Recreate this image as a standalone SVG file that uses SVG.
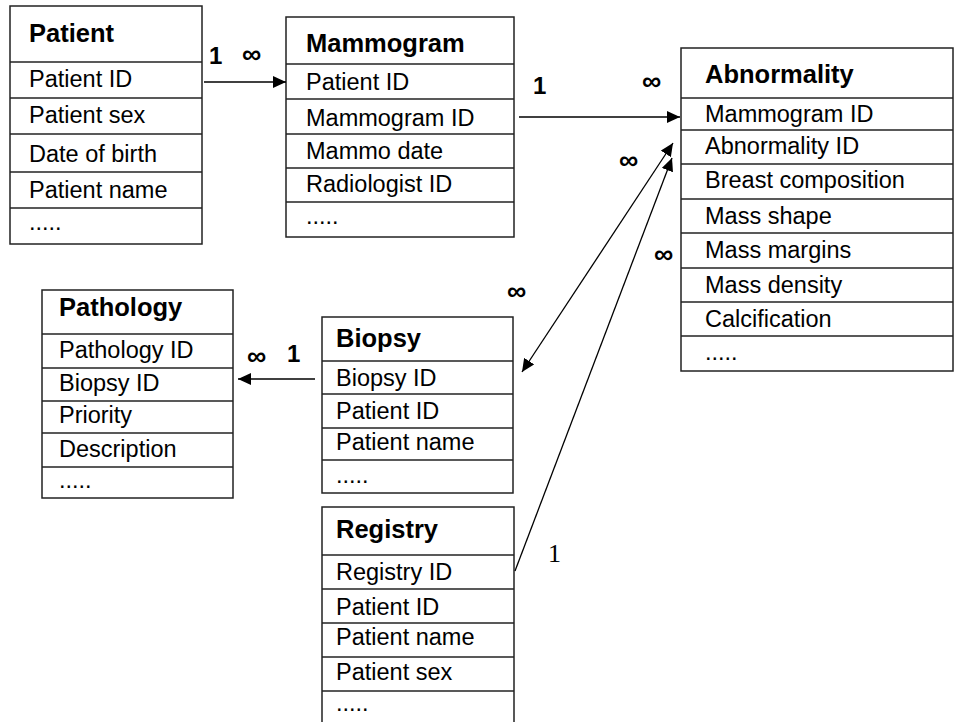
<svg xmlns="http://www.w3.org/2000/svg" width="955" height="722" viewBox="0 0 955 722">
  <style>
    .box { fill: #ffffff; stroke: #222222; stroke-width: 1.5; }
    .sep { stroke: #222222; stroke-width: 1.5; }
    .title { font-family: "Liberation Sans", Arial, sans-serif; font-size: 25.5px; font-weight: bold; fill: #000; }
    .field { font-family: "Liberation Sans", Arial, sans-serif; font-size: 23.5px; fill: #000; }
    .card { font-family: "Liberation Sans", Arial, sans-serif; font-size: 24px; font-weight: bold; fill: #000; }
    .inf { font-family: "Liberation Sans", Arial, sans-serif; font-size: 27px; font-weight: bold; fill: #000; }
    .card1 { font-family: "Liberation Serif", "Times New Roman", serif; font-size: 26px; fill: #000; }
    .conn { stroke: #000; stroke-width: 1.3; fill: none; }
  </style>
  <defs>
    <marker id="arrow" markerUnits="userSpaceOnUse" markerWidth="13" markerHeight="12" refX="13" refY="6" orient="auto-start-reverse">
      <path d="M0,0 L13,6 L0,12 z" fill="#000"/>
    </marker>
  </defs>
  <rect width="955" height="722" fill="#ffffff"/>

  <!-- Patient table -->
  <g id="patient">
    <rect class="box" x="10" y="6" width="192" height="238"/>
    <line class="sep" x1="10" y1="62" x2="202" y2="62"/>
    <line class="sep" x1="10" y1="98" x2="202" y2="98"/>
    <line class="sep" x1="10" y1="134" x2="202" y2="134"/>
    <line class="sep" x1="10" y1="172" x2="202" y2="172"/>
    <line class="sep" x1="10" y1="208" x2="202" y2="208"/>
    <text class="title" x="29" y="42">Patient</text>
    <text class="field" x="29" y="87">Patient ID</text>
    <text class="field" x="29" y="123">Patient sex</text>
    <text class="field" x="29" y="162">Date of birth</text>
    <text class="field" x="29" y="198">Patient name</text>
    <text class="field" x="29" y="230">.....</text>
  </g>

  <!-- Mammogram table -->
  <g id="mammogram">
    <rect class="box" x="286" y="17" width="228" height="220"/>
    <line class="sep" x1="286" y1="64" x2="514" y2="64"/>
    <line class="sep" x1="286" y1="99" x2="514" y2="99"/>
    <line class="sep" x1="286" y1="134" x2="514" y2="134"/>
    <line class="sep" x1="286" y1="168" x2="514" y2="168"/>
    <line class="sep" x1="286" y1="202" x2="514" y2="202"/>
    <text class="title" x="306" y="52">Mammogram</text>
    <text class="field" x="306" y="90">Patient ID</text>
    <text class="field" x="306" y="126">Mammogram ID</text>
    <text class="field" x="306" y="159">Mammo date</text>
    <text class="field" x="306" y="192">Radiologist ID</text>
    <text class="field" x="306" y="224">.....</text>
  </g>

  <!-- Abnormality table -->
  <g id="abnormality">
    <rect class="box" x="681" y="48" width="272" height="323"/>
    <line class="sep" x1="681" y1="98" x2="953" y2="98"/>
    <line class="sep" x1="681" y1="130" x2="953" y2="130"/>
    <line class="sep" x1="681" y1="164" x2="953" y2="164"/>
    <line class="sep" x1="681" y1="199" x2="953" y2="199"/>
    <line class="sep" x1="681" y1="233" x2="953" y2="233"/>
    <line class="sep" x1="681" y1="268" x2="953" y2="268"/>
    <line class="sep" x1="681" y1="302" x2="953" y2="302"/>
    <line class="sep" x1="681" y1="336" x2="953" y2="336"/>
    <text class="title" x="705" y="83">Abnormality</text>
    <text class="field" x="705" y="122">Mammogram ID</text>
    <text class="field" x="705" y="154">Abnormality ID</text>
    <text class="field" x="705" y="188">Breast composition</text>
    <text class="field" x="705" y="224">Mass shape</text>
    <text class="field" x="705" y="258">Mass margins</text>
    <text class="field" x="705" y="293">Mass density</text>
    <text class="field" x="705" y="327">Calcification</text>
    <text class="field" x="705" y="360">.....</text>
  </g>

  <!-- Pathology table -->
  <g id="pathology">
    <rect class="box" x="42" y="290" width="191" height="208"/>
    <line class="sep" x1="42" y1="334" x2="233" y2="334"/>
    <line class="sep" x1="42" y1="368" x2="233" y2="368"/>
    <line class="sep" x1="42" y1="401" x2="233" y2="401"/>
    <line class="sep" x1="42" y1="433" x2="233" y2="433"/>
    <line class="sep" x1="42" y1="467" x2="233" y2="467"/>
    <text class="title" x="59" y="316">Pathology</text>
    <text class="field" x="59" y="358">Pathology ID</text>
    <text class="field" x="59" y="391">Biopsy ID</text>
    <text class="field" x="59" y="423">Priority</text>
    <text class="field" x="59" y="457">Description</text>
    <text class="field" x="59" y="488">.....</text>
  </g>

  <!-- Biopsy table -->
  <g id="biopsy">
    <rect class="box" x="322" y="317" width="191" height="176"/>
    <line class="sep" x1="322" y1="361" x2="513" y2="361"/>
    <line class="sep" x1="322" y1="394" x2="513" y2="394"/>
    <line class="sep" x1="322" y1="428" x2="513" y2="428"/>
    <line class="sep" x1="322" y1="460" x2="513" y2="460"/>
    <text class="title" x="336" y="347">Biopsy</text>
    <text class="field" x="336" y="386">Biopsy ID</text>
    <text class="field" x="336" y="419">Patient ID</text>
    <text class="field" x="336" y="450">Patient name</text>
    <text class="field" x="336" y="483">.....</text>
  </g>

  <!-- Registry table (runs off the bottom edge) -->
  <g id="registry">
    <path class="box" d="M322,725 L322,507 L514,507 L514,725"/>
    <line class="sep" x1="322" y1="555" x2="514" y2="555"/>
    <line class="sep" x1="322" y1="589" x2="514" y2="589"/>
    <line class="sep" x1="322" y1="623" x2="514" y2="623"/>
    <line class="sep" x1="322" y1="657" x2="514" y2="657"/>
    <line class="sep" x1="322" y1="691" x2="514" y2="691"/>
    <text class="title" x="336" y="538">Registry</text>
    <text class="field" x="336" y="580">Registry ID</text>
    <text class="field" x="336" y="615">Patient ID</text>
    <text class="field" x="336" y="645">Patient name</text>
    <text class="field" x="336" y="680">Patient sex</text>
    <text class="field" x="336" y="711">.....</text>
  </g>

  <!-- Relationships -->
  <g id="connectors">
    <line class="conn" x1="204" y1="82" x2="286" y2="82" marker-end="url(#arrow)"/>
    <line class="conn" x1="519" y1="117" x2="680" y2="117" marker-end="url(#arrow)"/>
    <line class="conn" x1="315" y1="379" x2="238" y2="379" marker-end="url(#arrow)"/>
    <line class="conn" x1="522" y1="372" x2="673" y2="143" marker-start="url(#arrow)" marker-end="url(#arrow)"/>
    <line class="conn" x1="515" y1="571" x2="672" y2="158" marker-end="url(#arrow)"/>

    <text class="card" x="209" y="64">1</text>
    <text class="inf" x="242" y="63">∞</text>
    <text class="card" x="533" y="94">1</text>
    <text class="inf" x="642" y="90">∞</text>
    <text class="inf" x="619" y="169">∞</text>
    <text class="inf" x="654" y="263">∞</text>
    <text class="inf" x="507" y="300">∞</text>
    <text class="inf" x="247" y="365">∞</text>
    <text class="card" x="287" y="362">1</text>
    <text class="card1" x="548" y="562">1</text>
  </g>
</svg>
